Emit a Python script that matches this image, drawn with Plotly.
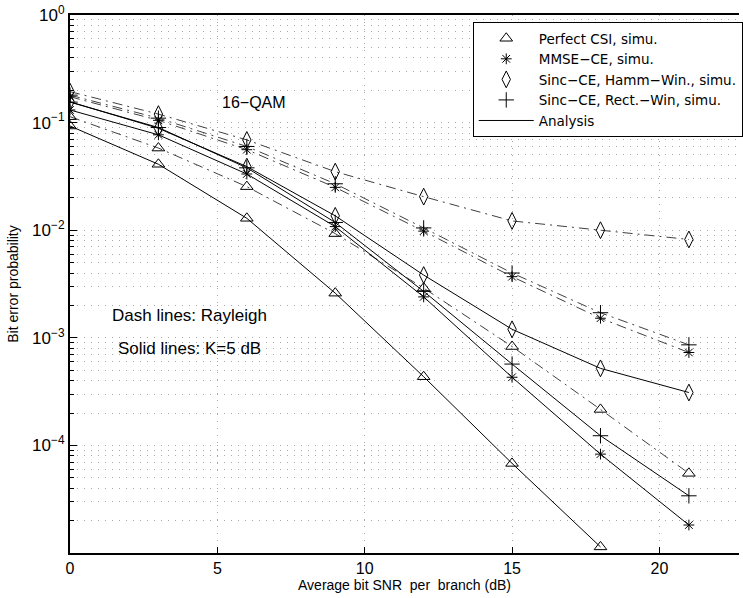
import plotly.graph_objects as go

snr = [0, 3, 6, 9, 12, 15, 18, 21]

# Rayleigh (dash-dot lines)
ray_perfect = [0.1135, 0.058, 0.0254, 0.0093, 0.0029, 8.3e-4, 2.16e-4, 5.5e-5]
ray_mmse = [0.174, 0.105, 0.056, 0.025, 0.0098, 0.0037, 1.52e-3, 7.3e-4]
ray_hamm = [0.194, 0.12, 0.069, 0.035, 0.0205, 0.0122, 0.0100, 0.0082]
ray_rect = [0.18, 0.11, 0.06, 0.027, 0.0105, 0.0040, 1.71e-3, 8.6e-4]

# Rician K=5 dB (solid lines)
ric_snr_perfect = [0, 3, 6, 9, 12, 15, 18]
ric_perfect = [0.093, 0.041, 0.0129, 0.0026, 4.35e-4, 6.8e-5, 1.14e-5]
ric_mmse = [0.131, 0.077, 0.0333, 0.0108, 0.0024, 4.3e-4, 8.3e-5, 1.82e-5]
ric_hamm = [0.156, 0.0885, 0.039, 0.0136, 0.00383, 1.2e-3, 5.2e-4, 3.1e-4]
ric_rect = [0.155, 0.09, 0.038, 0.0118, 0.0027, 5.7e-4, 1.23e-4, 3.4e-5]

legend_names = ["Perfect CSI, simu.", "MMSE\u2212CE, simu.",
                "Sinc\u2212CE, Hamm\u2212Win., simu.", "Sinc\u2212CE, Rect.\u2212Win, simu."]
symbols = ["triangle-up-open", "asterisk-open", "diamond-tall-open", "cross-thin-open"]
sizes = [11, 9, 12, 11]

ytick_vals = [1, 0.1, 0.01, 0.001, 1e-4]
ytick_text = ["10<sup>0</sup>", "10<sup>\u22121</sup>", "10<sup>\u22122</sup>",
              "10<sup>\u22123</sup>", "10<sup>\u22124</sup>"]
xtick_vals = [0, 5, 10, 15, 20]

FONT = "Liberation Sans, Arial, sans-serif"

fig = go.Figure()

ray_sets = [(snr, ray_perfect), (snr, ray_mmse), (snr, ray_hamm), (snr, ray_rect)]
ric_sets = [(ric_snr_perfect, ric_perfect), (snr, ric_mmse), (snr, ric_hamm), (snr, ric_rect)]

for (xs, ys), sym, sz in zip(ray_sets, symbols, sizes):
    fig.add_trace(go.Scatter(
        x=xs, y=ys, mode="lines+markers", showlegend=False,
        line=dict(color="#404040", width=1, dash="10px,5px,2px,5px"),
        marker=dict(symbol=sym, size=sz, color="black", line=dict(width=1, color="black")),
    ))

for (xs, ys), sym, sz in zip(ric_sets, symbols, sizes):
    fig.add_trace(go.Scatter(
        x=xs, y=ys, mode="lines+markers", showlegend=False,
        line=dict(color="black", width=1),
        marker=dict(symbol=sym, size=sz, color="black", line=dict(width=1, color="black")),
    ))

for name, sym, sz in zip(legend_names, symbols, sizes):
    fig.add_trace(go.Scatter(
        x=[None], y=[None], mode="markers", name=name,
        marker=dict(symbol=sym, size=sz, color="black", line=dict(width=1, color="black")),
    ))
fig.add_trace(go.Scatter(x=[None], y=[None], mode="lines", name="Analysis",
                         line=dict(color="black", width=1)))

fig.add_annotation(x=6.24, y=-0.809, text="16\u2212QAM", showarrow=False,
                   font=dict(size=16, family=FONT, color="black"))
fig.add_annotation(x=4.05, y=-2.797, text="Dash lines: Rayleigh", showarrow=False,
                   font=dict(size=17, family=FONT, color="black"))
fig.add_annotation(x=4.05, y=-3.104, text="Solid lines: K=5 dB", showarrow=False,
                   font=dict(size=17, family=FONT, color="black"))

grid_color = "#a8a8a8"

fig.update_layout(
    width=743, height=598,
    margin=dict(l=70, r=0, t=15, b=45),
    paper_bgcolor="white", plot_bgcolor="white",
    font=dict(family=FONT, size=14, color="black"),
    legend=dict(x=0.602, y=0.987, xanchor="left", yanchor="top",
                bgcolor="white", bordercolor="black", borderwidth=1,
                font=dict(size=13.5, family="DejaVu Sans, sans-serif"), itemwidth=55,
                tracegroupgap=0),
    xaxis=dict(
        range=[0, 22.7], tickvals=xtick_vals, ticks="inside", ticklen=6,
        tickcolor="black", showline=True, linecolor="black", linewidth=2,
        mirror=True, showgrid=True, gridcolor=grid_color, griddash="1px,6px",
        gridwidth=1, zeroline=False, tickfont=dict(size=16),
        title=dict(text="Average bit SNR  per  branch (dB)", font=dict(size=14), standoff=4),
    ),
    yaxis=dict(
        type="log", range=[-5, 0], tickvals=ytick_vals, ticktext=ytick_text,
        ticks="inside", ticklen=7, tickcolor="black",
        showline=True, linecolor="black", linewidth=2, mirror=False,
        showgrid=True, gridcolor=grid_color, griddash="1px,6px", gridwidth=1,
        zeroline=False, tickfont=dict(size=17),
        minor=dict(dtick="D1", showgrid=True, gridcolor=grid_color, griddash="1px,6px",
                   ticks="inside", ticklen=4, tickcolor="black"),
        title=dict(text="Bit error probability", font=dict(size=14), standoff=10),
    ),
)

fig.write_html("out.html")
